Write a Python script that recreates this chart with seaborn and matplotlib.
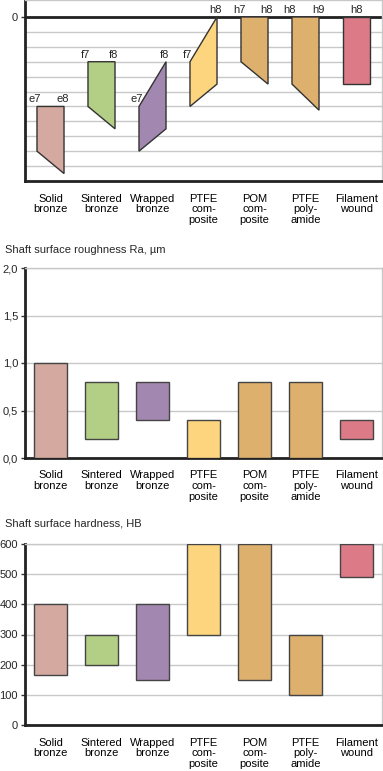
import numpy as np
import pandas as pd
import seaborn as sns
import matplotlib.pyplot as plt

# categories and colours
materials = ['Solid\nbronze', 'Sintered\nbronze', 'Wrapped\nbronze', 'PTFE\ncom-\nposite',
             'POM\ncom-\nposite', 'PTFE\npoly-\namide', 'Filament\nwound']
colors = ['#D4A9A0', '#B3CF85', '#A288B0', '#FDD57E', '#DEB06E', '#DEB06E', '#DC7A88']

# shaft tolerance fields (grid units, 0 = nominal)
tol_top_left = [-6, -3, -6, -3, 0, 0, 0]
tol_top_right = [-6, -3, -3, 0, 0, 0, 0]
tol_bot_left = [-9, -6, -9, -6, -3, -4.5, -4.5]
tol_bot_right = [-10.5, -7.5, -7.5, -4.5, -4.5, -6.25, -4.5]
tol_label_left = ['e7', 'f7', 'e7', 'f7', 'h7', 'h8', '']
tol_label_right = ['e8', 'f8', 'f8', 'h8', 'h8', 'h9', '']
tol_label_mid = ['', '', '', '', '', '', 'h8']

# shaft surface roughness Ra, um
ra_low = [0.0, 0.2, 0.4, 0.0, 0.0, 0.0, 0.2]
ra_high = [1.0, 0.8, 0.8, 0.4, 0.8, 0.8, 0.4]

# shaft surface hardness, HB
hb_low = [165, 200, 150, 300, 150, 100, 490]
hb_high = [400, 300, 400, 600, 600, 300, 600]

sns.set_theme(style='white')
plt.rcParams['font.family'] = ['Liberation Sans', 'DejaVu Sans']
FS = 8

W, H = 383, 771
fig = plt.figure(figsize=(W / 100, H / 100), dpi=100)


def px_axes(left, top, right, bottom):
    return fig.add_axes([left / W, 1 - bottom / H, (right - left) / W, (bottom - top) / H])


def style_axes(ax):
    ax.set_xlim(-0.5, len(materials) - 0.5)
    ax.set_xticks(range(len(materials)))
    ax.set_xticklabels(materials, fontsize=FS, linespacing=1.1, va='top')
    ax.tick_params(axis='x', length=0, pad=9, colors='black')
    ax.tick_params(axis='y', which='major', length=3, width=1, color='#333333', pad=2,
                   labelsize=FS, direction='out', left=True)
    ax.grid(axis='y', which='both', color='#C8C8C8', lw=1)
    ax.set_axisbelow(True)
    for s in ['left', 'bottom']:
        ax.spines[s].set_color('#222222')
        ax.spines[s].set_linewidth(2)
    for s in ['top', 'right']:
        ax.spines[s].set_color('#C8C8C8')
        ax.spines[s].set_linewidth(1)
    ax.set_xlabel('')
    ax.set_ylabel('')


#%% tolerance panel
ax1 = px_axes(25, 0, 382, 181)
bw = 0.53
for i in range(len(materials)):
    xl, xr = i - bw / 2, i + bw / 2
    ax1.fill([xl, xr, xr, xl], [tol_top_left[i], tol_top_right[i], tol_bot_right[i], tol_bot_left[i]],
             facecolor=colors[i], edgecolor='#333333', lw=1, zorder=3)
    for lab, x, y in [(tol_label_left[i], xl - 0.04, tol_top_left[i]),
                      (tol_label_right[i], xr - 0.02, tol_top_right[i]),
                      (tol_label_mid[i], i, tol_top_left[i])]:
        if lab:
            ax1.annotate(lab, (x, y), xytext=(0, 1.5), textcoords='offset points',
                         ha='center', va='bottom', fontsize=FS, zorder=4)
ax1.set_ylim(-11, 1.14)
ax1.set_yticks([0])
ax1.set_yticks(np.arange(-10, 0, 1), minor=True)
style_axes(ax1)
ax1.tick_params(axis='y', which='minor', length=0)
ax1.axhline(0, color='#222222', lw=2, zorder=2)

#%% roughness panel
ax2 = px_axes(25, 268, 382, 458)
ra_df = pd.DataFrame({'material': materials, 'low': ra_low, 'high': ra_high})
sns.barplot(data=ra_df, x='material', y='high', hue='material', palette=colors, legend=False,
            saturation=1, width=0.63, ax=ax2, edgecolor='#444444', linewidth=1, zorder=3)
for p, lo, hi in zip(ax2.patches, ra_low, ra_high):
    p.set_y(lo)
    p.set_height(hi - lo)
ax2.set_ylim(0, 2.0)
ax2.set_yticks(np.arange(0, 2.01, 0.5))
style_axes(ax2)
ax2.set_yticklabels([f'{v:.1f}'.replace('.', ',') for v in np.arange(0, 2.01, 0.5)])
fig.text(5 / W, 1 - 250 / H, 'Shaft surface roughness Ra, µm', fontsize=FS, va='center')

#%% hardness panel
ax3 = px_axes(25, 544, 382, 725)
hb_df = pd.DataFrame({'material': materials, 'low': hb_low, 'high': hb_high})
sns.barplot(data=hb_df, x='material', y='high', hue='material', palette=colors, legend=False,
            saturation=1, width=0.63, ax=ax3, edgecolor='#444444', linewidth=1, zorder=3)
for p, lo, hi in zip(ax3.patches, hb_low, hb_high):
    p.set_y(lo)
    p.set_height(hi - lo)
ax3.set_ylim(0, 600)
ax3.set_yticks(np.arange(0, 601, 100))
style_axes(ax3)
fig.text(5 / W, 1 - 524 / H, 'Shaft surface hardness, HB', fontsize=FS, va='center')

fig.savefig('out.png', dpi=100)
